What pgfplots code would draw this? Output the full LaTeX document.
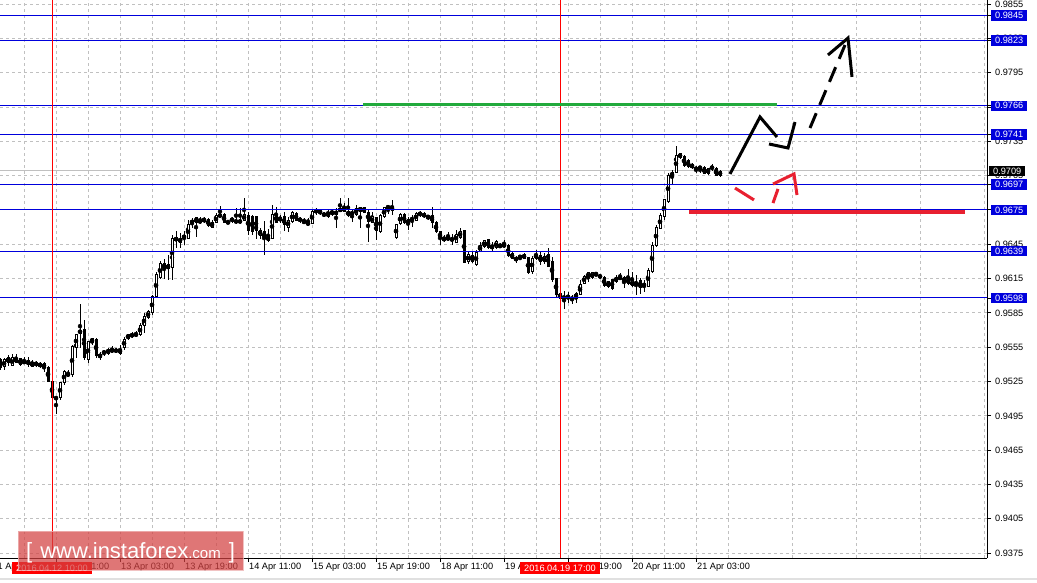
\documentclass[border=0pt]{standalone}
\usepackage{pgfplots}
\pgfplotsset{compat=1.18}
\usepackage{pgfplotstable}
\usepackage{fontspec}
\setmainfont{Liberation Sans}

\definecolor{lvlblue}{RGB}{0,0,220}
\definecolor{gridgray}{RGB}{192,192,192}
\definecolor{annred}{RGB}{232,32,48}
\definecolor{anngreen}{RGB}{34,170,60}
\definecolor{wmred}{RGB}{212,66,66}

% hourly candles: index, open, high, low, close
\pgfplotstableread{
i o h l c
0 0.9544 0.9546 0.9535 0.9537
1 0.9538 0.9546 0.9535 0.9544
2 0.9546 0.9548 0.9539 0.9542
3 0.9539 0.9549 0.9539 0.9546
4 0.9545 0.9549 0.9541 0.9542
5 0.9545 0.9546 0.9539 0.9540
6 0.9543 0.9546 0.9540 0.9541
7 0.9540 0.9546 0.9538 0.9543
8 0.9542 0.9544 0.9538 0.9538
9 0.9539 0.9543 0.9538 0.9542
10 0.9541 0.9542 0.9537 0.9538
11 0.9537 0.9542 0.9533 0.9541
12 0.9537 0.9539 0.9525 0.9525
13 0.9525 0.9525 0.9509 0.9511
14 0.9510 0.9512 0.9497 0.9511
15 0.9511 0.9525 0.9509 0.9524
16 0.9524 0.9535 0.9522 0.9534
17 0.9532 0.9535 0.9529 0.9530
18 0.9531 0.9557 0.9529 0.9556
19 0.9555 0.9567 0.9546 0.9566
20 0.9567 0.9593 0.9554 0.9570
21 0.9571 0.9579 0.9544 0.9546
22 0.9544 0.9560 0.9541 0.9560
23 0.9563 0.9563 0.9557 0.9559
24 0.9562 0.9563 0.9546 0.9548
25 0.9546 0.9551 0.9544 0.9549
26 0.9551 0.9553 0.9547 0.9550
27 0.9550 0.9554 0.9548 0.9553
28 0.9553 0.9556 0.9550 0.9551
29 0.9553 0.9554 0.9550 0.9551
30 0.9550 0.9557 0.9548 0.9553
31 0.9555 0.9564 0.9553 0.9562
32 0.9563 0.9567 0.9561 0.9566
33 0.9566 0.9568 0.9563 0.9565
34 0.9567 0.9569 0.9564 0.9565
35 0.9566 0.9576 0.9565 0.9574
36 0.9574 0.9585 0.9567 0.9582
37 0.9581 0.9588 0.9580 0.9586
38 0.9585 0.9601 0.9583 0.9599
39 0.9599 0.9621 0.9598 0.9619
40 0.9616 0.9630 0.9615 0.9628
41 0.9628 0.9632 0.9615 0.9624
42 0.9627 0.9636 0.9614 0.9624
43 0.9625 0.9653 0.9614 0.9650
44 0.9651 0.9657 0.9642 0.9648
45 0.9647 0.9655 0.9642 0.9650
46 0.9651 0.9657 0.9644 0.9652
47 0.9650 0.9666 0.9650 0.9662
48 0.9663 0.9668 0.9659 0.9666
49 0.9668 0.9669 0.9651 0.9664
50 0.9664 0.9669 0.9663 0.9666
51 0.9667 0.9669 0.9664 0.9665
52 0.9667 0.9668 0.9660 0.9661
53 0.9660 0.9666 0.9659 0.9664
54 0.9664 0.9672 0.9664 0.9670
55 0.9671 0.9678 0.9669 0.9669
56 0.9671 0.9672 0.9664 0.9664
57 0.9665 0.9666 0.9663 0.9663
58 0.9665 0.9669 0.9664 0.9668
59 0.9664 0.9677 0.9663 0.9666
60 0.9665 0.9677 0.9663 0.9665
61 0.9666 0.9685 0.9665 0.9671
62 0.9670 0.9673 0.9653 0.9657
63 0.9669 0.9671 0.9653 0.9656
64 0.9669 0.9669 0.9650 0.9657
65 0.9653 0.9659 0.9650 0.9657
66 0.9656 0.9665 0.9636 0.9650
67 0.9648 0.9658 0.9647 0.9652
68 0.9650 0.9679 0.9650 0.9671
69 0.9671 0.9678 0.9664 0.9664
70 0.9668 0.9671 0.9664 0.9666
71 0.9669 0.9673 0.9657 0.9662
72 0.9660 0.9669 0.9656 0.9666
73 0.9665 0.9674 0.9664 0.9673
74 0.9672 0.9673 0.9665 0.9666
75 0.9667 0.9669 0.9664 0.9666
76 0.9665 0.9668 0.9663 0.9664
77 0.9664 0.9668 0.9662 0.9662
78 0.9663 0.9676 0.9663 0.9674
79 0.9675 0.9677 0.9671 0.9673
80 0.9674 0.9675 0.9671 0.9673
81 0.9672 0.9673 0.9669 0.9670
82 0.9669 0.9676 0.9668 0.9673
83 0.9674 0.9676 0.9670 0.9671
84 0.9671 0.9677 0.9659 0.9674
85 0.9674 0.9685 0.9673 0.9676
86 0.9677 0.9681 0.9673 0.9674
87 0.9674 0.9685 0.9669 0.9670
88 0.9671 0.9675 0.9664 0.9673
89 0.9671 0.9679 0.9670 0.9676
90 0.9677 0.9678 0.9659 0.9674
91 0.9677 0.9678 0.9673 0.9673
92 0.9673 0.9675 0.9647 0.9665
93 0.9664 0.9673 0.9664 0.9669
94 0.9668 0.9669 0.9649 0.9657
95 0.9656 0.9671 0.9655 0.9670
96 0.9669 0.9678 0.9668 0.9677
97 0.9677 0.9679 0.9671 0.9678
98 0.9678 0.9684 0.9671 0.9675
99 0.9651 0.9663 0.9650 0.9662
100 0.9663 0.9672 0.9662 0.9671
101 0.9671 0.9672 0.9663 0.9664
102 0.9663 0.9669 0.9657 0.9667
103 0.9666 0.9671 0.9660 0.9668
104 0.9666 0.9673 0.9665 0.9672
105 0.9672 0.9674 0.9669 0.9671
106 0.9672 0.9673 0.9668 0.9669
107 0.9669 0.9671 0.9666 0.9669
108 0.9670 0.9678 0.9659 0.9664
109 0.9664 0.9665 0.9655 0.9656
110 0.9656 0.9657 0.9644 0.9650
111 0.9650 0.9653 0.9647 0.9649
112 0.9649 0.9656 0.9648 0.9651
113 0.9650 0.9654 0.9644 0.9649
114 0.9647 0.9657 0.9646 0.9654
115 0.9651 0.9659 0.9650 0.9656
116 0.9657 0.9657 0.9629 0.9629
117 0.9630 0.9638 0.9628 0.9636
118 0.9635 0.9638 0.9629 0.9630
119 0.9627 0.9640 0.9626 0.9638
120 0.9639 0.9647 0.9638 0.9644
121 0.9643 0.9649 0.9642 0.9648
122 0.9649 0.9649 0.9641 0.9642
123 0.9641 0.9647 0.9639 0.9644
124 0.9642 0.9649 0.9641 0.9647
125 0.9644 0.9646 0.9642 0.9643
126 0.9644 0.9649 0.9642 0.9644
127 0.9644 0.9645 0.9634 0.9635
128 0.9637 0.9638 0.9632 0.9633
129 0.9633 0.9635 0.9629 0.9631
130 0.9633 0.9635 0.9631 0.9635
131 0.9636 0.9637 0.9632 0.9633
132 0.9633 0.9634 0.9619 0.9620
133 0.9621 0.9635 0.9619 0.9633
134 0.9633 0.9640 0.9631 0.9636
135 0.9635 0.9638 0.9627 0.9630
136 0.9630 0.9637 0.9628 0.9634
137 0.9636 0.9642 0.9626 0.9626
138 0.9630 0.9634 0.9612 0.9614
139 0.9615 0.9616 0.9599 0.9601
140 0.9602 0.9602 0.9597 0.9598
141 0.9599 0.9604 0.9588 0.9598
142 0.9600 0.9603 0.9594 0.9598
143 0.9597 0.9601 0.9593 0.9598
144 0.9598 0.9603 0.9594 0.9602
145 0.9601 0.9614 0.9601 0.9610
146 0.9611 0.9618 0.9610 0.9617
147 0.9616 0.9620 0.9612 0.9620
148 0.9616 0.9621 0.9615 0.9620
149 0.9619 0.9620 0.9617 0.9619
150 0.9618 0.9619 0.9615 0.9616
151 0.9616 0.9617 0.9608 0.9609
152 0.9612 0.9613 0.9607 0.9608
153 0.9614 0.9615 0.9605 0.9606
154 0.9612 0.9618 0.9611 0.9616
155 0.9616 0.9620 0.9614 0.9615
156 0.9612 0.9617 0.9607 0.9616
157 0.9615 0.9623 0.9609 0.9611
158 0.9609 0.9621 0.9608 0.9613
159 0.9611 0.9618 0.9601 0.9611
160 0.9613 0.9616 0.9602 0.9607
161 0.9608 0.9614 0.9603 0.9611
162 0.9608 0.9624 0.9608 0.9622
163 0.9621 0.9647 0.9620 0.9644
164 0.9644 0.9662 0.9643 0.9660
165 0.9659 0.9672 0.9658 0.9670
166 0.9669 0.9685 0.9666 0.9684
167 0.9682 0.9707 0.9681 0.9705
168 0.9704 0.9710 0.9698 0.9708
169 0.9708 0.9731 0.9707 0.9723
170 0.9724 0.9725 0.9720 0.9721
171 0.9722 0.9723 0.9713 0.9714
172 0.9718 0.9720 0.9712 0.9713
173 0.9715 0.9716 0.9711 0.9712
174 0.9712 0.9713 0.9707 0.9710
175 0.9712 0.9713 0.9707 0.9712
176 0.9712 0.9713 0.9706 0.9707
177 0.9707 0.9712 0.9706 0.9711
178 0.9712 0.9715 0.9709 0.9712
179 0.9711 0.9713 0.9705 0.9705
180 0.9705 0.9710 0.9704 0.9709
}\candles

\newcommand{\tickfont}{\fontsize{9.2}{11}\selectfont}

\begin{document}
\begin{tikzpicture}
\path[use as bounding box] (0pt,-24pt) rectangle (1037pt,558pt);
\fill[white] (0pt,-24pt) rectangle (1037pt,558pt);
\begin{axis}[
  at={(0pt,0pt)}, anchor=south west,
  scale only axis, width=987pt, height=558pt,
  xmin=0, xmax=246.75, ymin=0.937076, ymax=0.985845,
  axis x line*=bottom, axis y line*=right,
  axis line style={black, line width=1pt},
  tick align=outside, major tick length=4pt, minor tick length=0pt,
  every tick/.style={black, line width=0.8pt},
  xtick={14,30,...,174},
  xticklabels={12 Apr 11:00,13 Apr 03:00,13 Apr 19:00,14 Apr 11:00,15 Apr 03:00,15 Apr 19:00,18 Apr 11:00,19 Apr 03:00,19 Apr 19:00,20 Apr 11:00,21 Apr 03:00},
  minor xtick={6,22,...,246},
  ytick={0.9375,0.9405,0.9435,0.9465,0.9495,0.9525,0.9555,0.9585,0.9615,0.9645,0.9675,0.9705,0.9735,0.9765,0.9795,0.9825,0.9855},
  scaled y ticks=false,
  y tick label style={/pgf/number format/.cd, fixed, fixed zerofill, precision=4, assume math mode=true, /tikz/.cd},
  yticklabel pos=right,
  yticklabel style={anchor=west, inner xsep=4pt, inner ysep=2pt},
  xticklabel style={anchor=north west, inner sep=1pt},
  tick label style={font=\tickfont},
  grid=both,
  major grid style={gridgray, dash pattern=on 3pt off 3pt, line width=0.8pt},
  minor grid style={gridgray, dash pattern=on 3pt off 3pt, line width=0.8pt},
  extra y ticks={0.9845,0.9823,0.9766,0.9741,0.9697,0.9675,0.9639,0.9598},
  extra y tick style={grid=none, yticklabel style={fill=lvlblue, text=white}},
  clip mode=individual,
]
% bid line
\addplot[gridgray, line width=1pt, forget plot] coordinates {(0,0.9709) (246.75,0.9709)};
% wicks
\addplot[only marks, mark=none, forget plot,
  error bars/.cd, y dir=both, y explicit, error mark=none,
  error bar style={draw=black, line width=1pt}]
  table[x=i, y expr={(\thisrow{h}+\thisrow{l})/2}, y error expr={(\thisrow{h}-\thisrow{l})/2}] {\candles};
% bodies
\addplot[only marks, mark=none, forget plot,
  error bars/.cd, y dir=both, y explicit, error mark=none,
  error bar style={draw=black, line width=3pt}]
  table[x=i, y expr={(\thisrow{o}+\thisrow{c})/2}, y error expr={abs(\thisrow{c}-\thisrow{o})/2+0.0000437}] {\candles};
\addplot[only marks, mark=none, forget plot,
  error bars/.cd, y dir=both, y explicit, error mark=none,
  error bar style={draw=white, line width=1pt}]
  table[x=i, y expr={(\thisrow{o}+\thisrow{c})/2}, y error expr={max((\thisrow{c}-\thisrow{o})/2-0.0000437,0)}] {\candles};
% levels
\addplot[lvlblue, line width=1pt] coordinates {(0,0.9845) (246.75,0.9845)};
\addplot[lvlblue, line width=1pt] coordinates {(0,0.9823) (246.75,0.9823)};
\addplot[lvlblue, line width=1pt] coordinates {(0,0.9766) (246.75,0.9766)};
\addplot[lvlblue, line width=1pt] coordinates {(0,0.9741) (246.75,0.9741)};
\addplot[lvlblue, line width=1pt] coordinates {(0,0.9697) (246.75,0.9697)};
\addplot[lvlblue, line width=1pt] coordinates {(0,0.9675) (246.75,0.9675)};
\addplot[lvlblue, line width=1pt] coordinates {(0,0.9639) (246.75,0.9639)};
\addplot[lvlblue, line width=1pt] coordinates {(0,0.9598) (246.75,0.9598)};
% vertical markers
\addplot[red, line width=1pt] coordinates {(13,0.937076) (13,0.985845)};
\addplot[red, line width=1pt] coordinates {(140,0.937076) (140,0.985845)};
% drawn targets
\addplot[anngreen, line width=3pt] coordinates {(90.75,0.97675) (194.25,0.97675)};
\addplot[annred, line width=3.5pt] coordinates {(172.25,0.96732) (241.25,0.96732)};
\addplot[black, line width=3pt] coordinates {(182.5,0.97064) (190,0.97562) (194.25,0.97387)};
\addplot[black, line width=3pt] coordinates {(192.25,0.97326) (197,0.97291) (198.75,0.97518)};
\addplot[black, line width=3pt, dash pattern=on 16pt off 9pt] coordinates {(202.5,0.97466) (211.25,0.98191)};
\addplot[black, line width=3pt] coordinates {(207,0.98104) (212,0.98252) (213,0.97912)};
\addplot[annred, line width=3pt] coordinates {(183.75,0.96941) (188.5,0.96837)};
\addplot[annred, line width=3pt] coordinates {(193.25,0.96810) (194.5,0.96933)};
\addplot[annred, line width=3pt] coordinates {(193.25,0.96976) (198.5,0.97064) (199.25,0.96880)};
\coordinate (d1) at (axis cs:13,0.937076);
\coordinate (d2) at (axis cs:140,0.937076);
\coordinate (d0) at (axis cs:-2,0.937076);
\coordinate (bid) at (axis cs:246.75,0.9709);
\end{axis}
\node[anchor=north west, inner sep=1pt, font=\tickfont] at ([yshift=-4pt]d0) {11 Apr 19:00};
\node[fill=red, text=white, anchor=north, inner xsep=4pt, inner ysep=2.5pt, font=\tickfont] at ([yshift=-4pt]d1) {2016.04.12 10:00};
\node[fill=red, text=white, anchor=north, inner xsep=4pt, inner ysep=2.5pt, font=\tickfont] at ([yshift=-4pt]d2) {2016.04.19 17:00};
\node[fill=black, text=white, anchor=west, inner xsep=4pt, inner ysep=2pt, font=\tickfont] at ([xshift=2pt]bid) {0.9709};
\draw[black!12, line width=1.5pt] (0pt,-21pt) -- (1037pt,-21pt);
% watermark
\fill[wmred, opacity=0.72] (18pt,-12pt) rectangle (243pt,27pt);
\draw[white!60!wmred, opacity=0.8, line width=1pt] (18pt,-12pt) rectangle (243pt,27pt);
\node[text=white, anchor=base west, inner sep=0pt] at (26pt,0pt)
  {\fontsize{22}{24}\selectfont [\hspace{8pt}www.instaforex\fontsize{15}{16}\selectfont.com\hspace{8pt}\fontsize{22}{24}\selectfont]};
\end{tikzpicture}
\end{document}
